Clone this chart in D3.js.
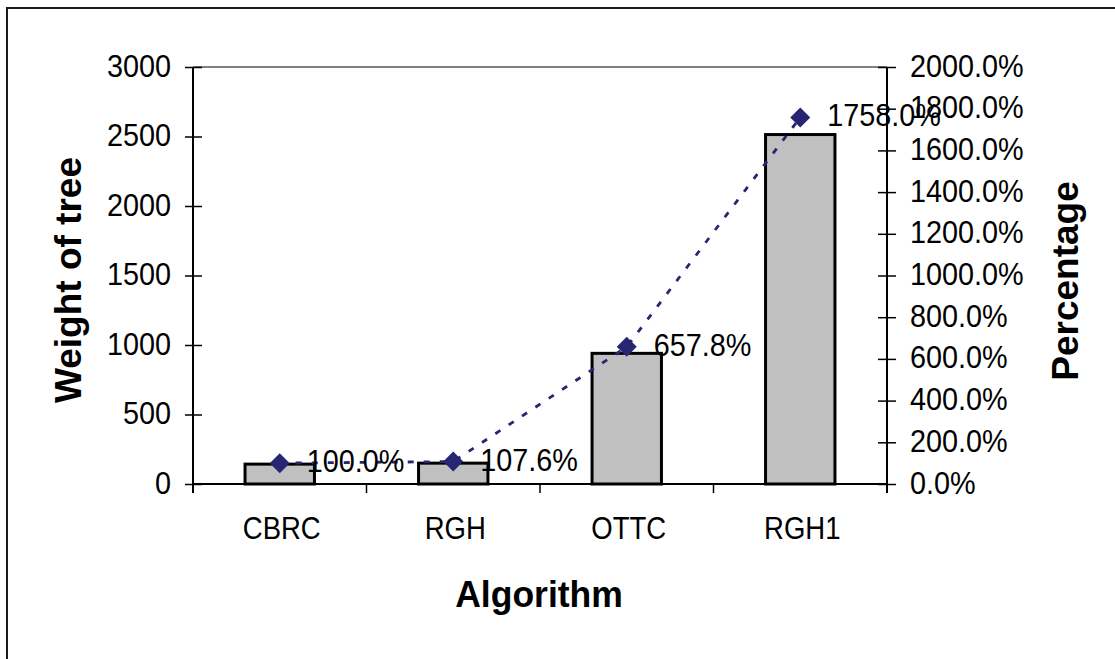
<!DOCTYPE html>
<html>
<head>
<meta charset="utf-8">
<script src="https://cdn.jsdelivr.net/npm/d3@7"></script>
<style>
  html, body { margin: 0; padding: 0; background: #fff; }
  svg { display: block; }
  text { font-family: "Liberation Sans", Arial, Helvetica, sans-serif; fill: #000; }
</style>
</head>
<body>
<svg id="chart" width="1115" height="659"></svg>
<script>
// Tree weight per algorithm (bars, left axis) and weight relative to CBRC (line, right axis)
const categories = ["CBRC", "RGH", "OTTC", "RGH1"];
const weights = [143, 150, 940, 2514];
const percentages = [100.0, 107.6, 657.8, 1758.0];
const leftTicks = [0, 500, 1000, 1500, 2000, 2500, 3000];
const rightTicks = [0, 200, 400, 600, 800, 1000, 1200, 1400, 1600, 1800, 2000];

const svg = d3.select("#chart");
const W = 1115, H = 659;
const plot = { left: 193, right: 887, top: 67, bottom: 484 };

const lineColor = "#262673";
const labelSize = 32, labelScale = 0.9;
const titleSize = 37;

// Outer chart frame (left and top edges are visible)
svg.append("path")
  .attr("d", `M7,${H} V8 H${W}`)
  .attr("fill", "none").attr("stroke", "#1a1a1a").attr("stroke-width", 2);

const x = d3.scaleBand()
  .domain(categories)
  .range([plot.left, plot.right])
  .paddingInner(0.6)
  .paddingOuter(0.3);

const y = d3.scaleLinear().domain([0, 3000]).range([plot.bottom, plot.top]);
const yPct = d3.scaleLinear().domain([0, 2000]).range([plot.bottom, plot.top]);

// Plot area top edge
svg.append("line")
  .attr("x1", plot.left).attr("x2", plot.right)
  .attr("y1", plot.top).attr("y2", plot.top)
  .attr("stroke", "#808080").attr("stroke-width", 2);

// Bars
svg.append("g").selectAll("rect")
  .data(weights)
  .join("rect")
  .attr("x", (d, i) => x(categories[i]))
  .attr("y", d => y(d))
  .attr("width", x.bandwidth())
  .attr("height", d => y(0) - y(d))
  .attr("fill", "#c0c0c0")
  .attr("stroke", "#000")
  .attr("stroke-width", 3);

// Writes a text label with a slightly condensed horizontal scale
function placeText(sel, tx, ty, opts = {}) {
  const rot = opts.rotate ? ` rotate(${opts.rotate})` : "";
  const sx = opts.scaleX == null ? labelScale : opts.scaleX;
  sel.attr("x", 0).attr("y", 0).attr("dy", null)
    .attr("transform", `translate(${tx},${ty})${rot} scale(${sx},1)`);
  return sel;
}

// Left axis
const leftAxis = svg.append("g")
  .attr("transform", `translate(${plot.left},0)`)
  .call(d3.axisLeft(y).tickValues(leftTicks).tickSize(8).tickFormat(d3.format("d")));
leftAxis.select(".domain").attr("stroke", "#000").attr("stroke-width", 2)
  .attr("d", `M0,${plot.top}V${plot.bottom + 9}`);
leftAxis.selectAll(".tick line").attr("x1", 9).attr("stroke", "#000").attr("stroke-width", 1.5);
leftAxis.selectAll(".tick text").each(function () {
  d3.select(this).attr("font-size", labelSize).attr("text-anchor", "end")
    .attr("font-family", null).attr("fill", "#000");
  placeText(d3.select(this), -22, 9);
});

// Right axis
const rightAxis = svg.append("g")
  .attr("transform", `translate(${plot.right},0)`)
  .call(d3.axisRight(yPct).tickValues(rightTicks).tickSize(9)
    .tickFormat(d => d3.format(".1f")(d) + "%"));
rightAxis.select(".domain").attr("stroke", "#000").attr("stroke-width", 2)
  .attr("d", `M0,${plot.top}V${plot.bottom + 9}`);
rightAxis.selectAll(".tick line").attr("x1", -9).attr("stroke", "#000").attr("stroke-width", 1.5);
rightAxis.selectAll(".tick text").each(function () {
  d3.select(this).attr("font-size", labelSize).attr("text-anchor", "start")
    .attr("font-family", null).attr("fill", "#000");
  placeText(d3.select(this), 23, 9);
});

// Category axis: labels centred under bars, ticks on category boundaries
const bottomAxis = svg.append("g")
  .attr("transform", `translate(0,${plot.bottom})`)
  .call(d3.axisBottom(x).tickSize(0));
bottomAxis.select(".domain").attr("stroke", "#000").attr("stroke-width", 2)
  .attr("d", `M${plot.left},0H${plot.right}`);
bottomAxis.selectAll(".tick text").each(function () {
  d3.select(this).attr("font-size", labelSize).attr("text-anchor", "middle")
    .attr("font-family", null).attr("fill", "#000");
  placeText(d3.select(this), 2, 55, { scaleX: 0.86 });
});
const boundaries = d3.range(categories.length + 1).map(i => plot.left + i * x.step());
bottomAxis.selectAll(".bound")
  .data(boundaries)
  .join("line")
  .attr("class", "bound")
  .attr("x1", d => d).attr("x2", d => d)
  .attr("y1", 0).attr("y2", 9)
  .attr("stroke", "#000").attr("stroke-width", 1.5);

// Percentage line
const cx = i => x(categories[i]) + x.bandwidth() / 2;
const line = d3.line()
  .x((d, i) => cx(i))
  .y(d => yPct(d));
svg.append("path")
  .datum(percentages)
  .attr("d", line)
  .attr("fill", "none")
  .attr("stroke", lineColor)
  .attr("stroke-width", 2.8)
  .attr("stroke-dasharray", "6,10");

// Diamond markers
const diamond = d3.symbol().type(d3.symbolSquare).size(200);
svg.append("g").selectAll("path")
  .data(percentages)
  .join("path")
  .attr("d", diamond)
  .attr("transform", (d, i) => `translate(${cx(i)},${yPct(d)}) rotate(45)`)
  .attr("fill", lineColor);

// Data labels
svg.append("g").selectAll("text")
  .data(percentages)
  .join("text")
  .attr("font-size", labelSize)
  .text(d => d3.format(".1f")(d) + "%")
  .each(function (d, i) {
    placeText(d3.select(this), cx(i) + 27, yPct(d) + 9);
  });

// Axis titles
placeText(svg.append("text")
  .attr("font-size", titleSize).attr("font-weight", "bold").attr("text-anchor", "middle")
  .text("Algorithm"), 539, 607, { scaleX: 0.96 });

placeText(svg.append("text")
  .attr("font-size", titleSize).attr("font-weight", "bold").attr("text-anchor", "middle")
  .text("Weight of tree"), 81, 280, { rotate: -90, scaleX: 1 });

placeText(svg.append("text")
  .attr("font-size", titleSize).attr("font-weight", "bold").attr("text-anchor", "middle")
  .text("Percentage"), 1078, 281, { rotate: -90, scaleX: 1 });
</script>
</body>
</html>
